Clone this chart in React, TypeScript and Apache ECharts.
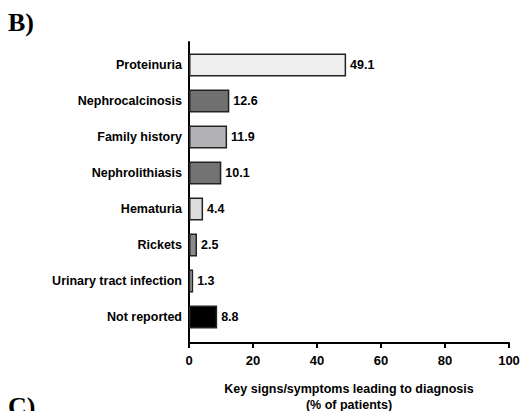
import React, { useEffect, useRef } from "react";
import * as echarts from "echarts";

const categories = [
  "Proteinuria",
  "Nephrocalcinosis",
  "Family history",
  "Nephrolithiasis",
  "Hematuria",
  "Rickets",
  "Urinary tract infection",
  "Not reported",
];
const values = [49.1, 12.6, 11.9, 10.1, 4.4, 2.5, 1.3, 8.8];
const barColors = ["#eeeeee", "#707070", "#b3b3b6", "#737373", "#dcdcdc", "#8a8a8a", "#c4c4c4", "#000000"];
const xTicks = [0, 20, 40, 60, 80, 100];

const FONT = "'Liberation Sans', Arial, sans-serif";

export default function App() {
  const ref = useRef<HTMLDivElement>(null);
  useEffect(() => {
    document.body.style.margin = "0";
    const chart = echarts.init(ref.current!, null, { renderer: "svg" });
    chart.setOption({
      animation: false,
      backgroundColor: "#ffffff",
      grid: [
        { left: 189, top: 47, width: 320, height: 288, containLabel: false, outerBoundsMode: "none" },
        { left: 189, top: 42, width: 320, height: 301, containLabel: false, outerBoundsMode: "none" },
      ],
      xAxis: [
        { gridIndex: 0, type: "value", min: 0, max: 100, show: false },
        {
          gridIndex: 1,
          type: "value",
          min: xTicks[0],
          max: xTicks[xTicks.length - 1],
          interval: 20,
          axisLine: { show: true, lineStyle: { color: "#000", width: 2 } },
          axisTick: { show: true, length: 5, lineStyle: { color: "#000", width: 2 } },
          axisLabel: { color: "#000", fontFamily: FONT, fontWeight: "bold", fontSize: 13, margin: 11 },
          splitLine: { show: false },
          name: "Key signs/symptoms leading to diagnosis\n(% of patients)",
          nameLocation: "middle",
          nameGap: 38,
          nameTextStyle: { color: "#000", fontFamily: FONT, fontWeight: "bold", fontSize: 12.5, lineHeight: 16 },
        },
      ],
      yAxis: [
        {
          gridIndex: 0,
          type: "category",
          data: categories,
          inverse: true,
          axisLine: { show: false },
          axisTick: { show: false },
          axisLabel: { color: "#000", fontFamily: FONT, fontWeight: "bold", fontSize: 12.5, margin: 7 },
        },
        {
          gridIndex: 1,
          type: "value",
          min: 0,
          max: 1,
          axisLine: { show: true, lineStyle: { color: "#000", width: 2 } },
          axisTick: { show: false },
          axisLabel: { show: false },
          splitLine: { show: false },
        },
      ],
      graphic: [
        {
          type: "text",
          left: 8,
          top: 9,
          style: { text: "B)", font: "bold 26px 'Liberation Serif', 'Times New Roman', serif", fill: "#000" },
        },
        {
          type: "text",
          left: 8,
          top: 393,
          style: { text: "C)", font: "bold 26px 'Liberation Serif', 'Times New Roman', serif", fill: "#000" },
        },
      ],
      series: [
        {
          type: "bar",
          xAxisIndex: 0,
          yAxisIndex: 0,
          barWidth: 23,
          data: values.map((v, i) => ({
            value: v,
            itemStyle: { color: barColors[i], borderColor: "#222", borderWidth: 1.5 },
          })),
          label: {
            show: true,
            position: "right",
            distance: 4,
            color: "#000",
            fontFamily: FONT,
            fontWeight: "bold",
            fontSize: 12.5,
            formatter: (p: any) => p.value.toFixed(1),
          },
        },
      ],
    });
    return () => chart.dispose();
  }, []);
  return <div ref={ref} style={{ width: 525, height: 411 }} />;
}
